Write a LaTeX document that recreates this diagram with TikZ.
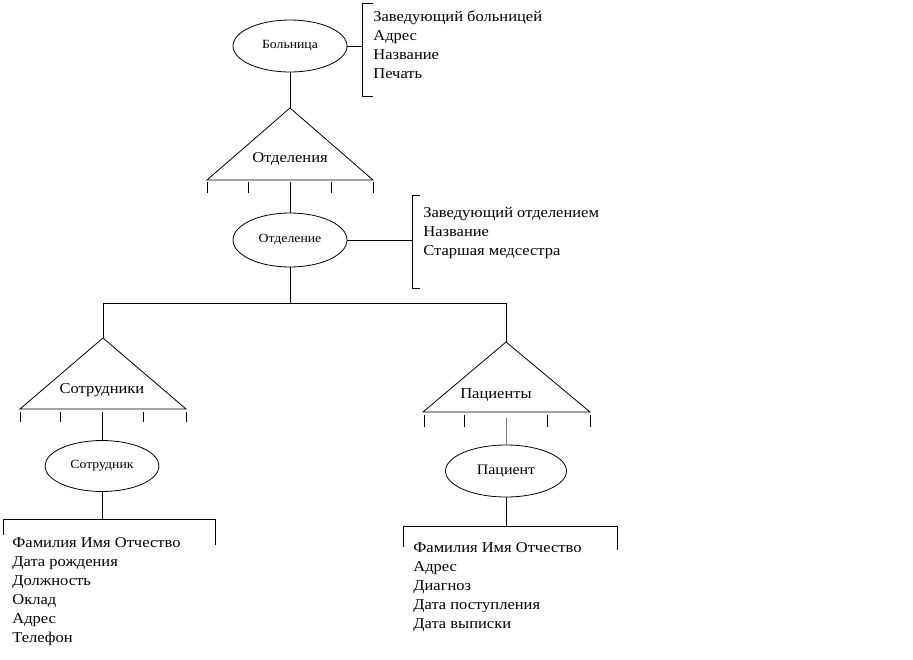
\documentclass[tikz,border=0pt]{standalone}
\usepackage{fontspec}
\setmainfont{Liberation Serif}[FakeStretch=1.1]
\usetikzlibrary{shapes.geometric}
\begin{document}
\begin{tikzpicture}[x=1pt,y=-1pt,line width=0.8pt,
  ent/.style={ellipse,draw,inner sep=0pt,minimum width=114pt,minimum height=52pt,font=\fontsize{12.5}{14}\selectfont},
  li/.style={anchor=west,inner sep=0pt,text height=10pt,text depth=3pt,font=\fontsize{15}{16}\selectfont},
  tlab/.style={inner sep=0pt,font=\fontsize{15}{16}\selectfont},
  tick/.style={line width=0.8pt}]
\useasboundingbox (0,0) rectangle (913,659);

% ---------- Больница ----------
\node[ent] (hosp) at (290,46) {\raisebox{2pt}{Больница}};
\coordinate (b1t) at (362,3);
\coordinate (b1b) at (362,96);
\coordinate (b1m) at (362,46);
\draw (hosp.east) -- (b1m);
\draw (373,3) -- (b1t) -- (b1b) -- (373,96);
\foreach \t [count=\i] in {Заведующий больницей,Адрес,Название,Печать}
  \node[li] (h\i) at (373,{17.5+(\i-1)*19}) {\t};

% ---------- Отделения (triangle) ----------
\coordinate (t1a) at (290,108);
\coordinate (t1l) at (207,180);
\coordinate (t1r) at (373,180);
\draw (t1a) -- (t1l) -- (t1r) -- cycle;
\node[tlab] (t1lab) at (290,159) {Отделения};
\draw (hosp.south) -- (t1a);
\foreach \x in {207,248,331,373} \draw[tick] (\x,182) -- (\x,193);

% ---------- Отделение ----------
\node[ent,minimum height=54pt] (dept) at (290,240) {\raisebox{-1pt}{Отделение}};
\draw (290,182) -- (dept.north);
\coordinate (b2t) at (412,195);
\coordinate (b2b) at (412,288);
\coordinate (b2m) at (412,240);
\draw (dept.east) -- (b2m);
\draw (420,195) -- (b2t) -- (b2b) -- (420,288);
\foreach \t [count=\i] in {Заведующий отделением,Название,Старшая медсестра}
  \node[li] (d\i) at (423,{213.5+(\i-1)*19}) {\t};

% ---------- split ----------
\coordinate (sp) at (290,303);
\coordinate (spl) at (103,303);
\coordinate (spr) at (506,303);
\draw (dept.south) -- (sp);
\draw (spl) -- (spr);

% ---------- Сотрудники (triangle) ----------
\coordinate (t2a) at (103,338);
\coordinate (t2l) at (20,409);
\coordinate (t2r) at (186,409);
\draw (t2a) -- (t2l) -- (t2r) -- cycle;
\node[tlab] (t2lab) at (102,390) {Сотрудники};
\draw (spl) -- (t2a);
\foreach \x in {20,60,143,186} \draw[tick] (\x,412) -- (\x,422);

\node[ent,minimum height=51pt] (emp) at (102,466) {Сотрудник};
\draw (102,412) -- (emp.north);
\coordinate (e0) at (102,519);
\coordinate (el) at (3,519);
\coordinate (er) at (215,519);
\draw (emp.south) -- (e0);
\draw (3,535) -- (el) -- (er) -- (215,545);
\foreach \t [count=\i] in {Фамилия Имя Отчество,Дата рождения,Должность,Оклад,Адрес,Телефон}
  \node[li] (e\i) at (12,{543.5+(\i-1)*19}) {\t};

% ---------- Пациенты (triangle) ----------
\coordinate (t3a) at (506,342);
\coordinate (t3l) at (423,412);
\coordinate (t3r) at (590,412);
\draw (t3a) -- (t3l) -- (t3r) -- cycle;
\node[tlab] (t3lab) at (496,395) {Пациенты};
\draw (spr) -- (t3a);
\foreach \x in {424,464,547,590} \draw[tick] (\x,415) -- (\x,427);

\node[ent,minimum width=121pt,minimum height=52pt,font=\fontsize{14.5}{16}\selectfont] (pat) at (506,471) {Пациент};
\draw[gray] (506,418) -- (pat.north);
\coordinate (p0) at (506,526);
\coordinate (pl) at (403,526);
\coordinate (pr) at (617,526);
\draw (pat.south) -- (p0);
\draw (403,547) -- (pl) -- (pr) -- (617,550);
\foreach \t [count=\i] in {Фамилия Имя Отчество,Адрес,Диагноз,Дата поступления,Дата выписки}
  \node[li] (p\i) at (413,{548.5+(\i-1)*19}) {\t};
\end{tikzpicture}
\end{document}
